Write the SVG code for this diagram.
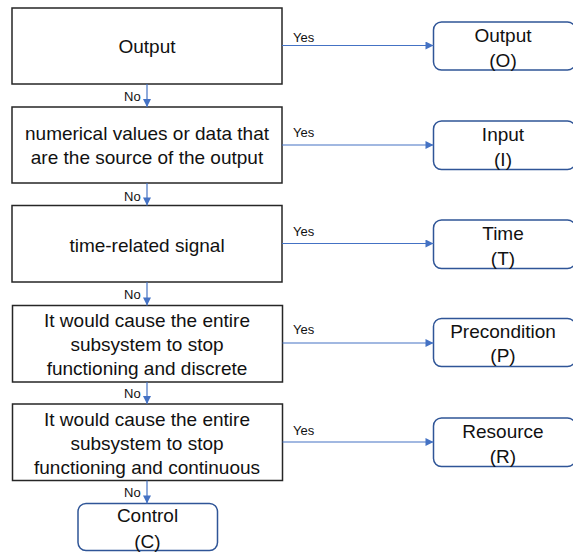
<svg xmlns="http://www.w3.org/2000/svg" width="573" height="552" viewBox="0 0 573 552">
  <defs>
    <marker id="arrow" viewBox="0 0 10 10" refX="10" refY="5" markerWidth="9" markerHeight="8" markerUnits="userSpaceOnUse" orient="auto">
      <path d="M0,0 L10,5 L0,10 Z" fill="#4472C4"/>
    </marker>
  </defs>
  <style>
    .dec { fill: #ffffff; stroke: #262626; stroke-width: 1.5; }
    .res { fill: #ffffff; stroke: #2F5597; stroke-width: 1.5; }
    .t { font-family: "Liberation Sans", Arial, sans-serif; font-size: 19px; fill: #111111; text-anchor: middle; }
    .lbl { font-family: "Liberation Sans", Arial, sans-serif; font-size: 13px; fill: #111111; }
    .edge { stroke: #4472C4; stroke-width: 1.2; fill: none; marker-end: url(#arrow); }
  </style>
  <rect width="573" height="552" fill="#ffffff"/>

  <!-- decision boxes -->
  <g id="q-output">
    <rect class="dec" x="12" y="8" width="270" height="76"/>
    <text class="t" x="147" y="53">Output</text>
  </g>
  <g id="q-input">
    <rect class="dec" x="12" y="107" width="270" height="76"/>
    <text class="t" x="147" y="140">numerical values or data that</text>
    <text class="t" x="147" y="163.5">are the source of the output</text>
  </g>
  <g id="q-time">
    <rect class="dec" x="12" y="205.5" width="270" height="76.5"/>
    <text class="t" x="147" y="251.5">time-related signal</text>
  </g>
  <g id="q-precondition">
    <rect class="dec" x="12.5" y="305.5" width="270" height="76.5"/>
    <text class="t" x="147" y="326.5">It would cause the entire</text>
    <text class="t" x="147" y="350.5">subsystem to stop</text>
    <text class="t" x="147" y="374.5">functioning and discrete</text>
  </g>
  <g id="q-resource">
    <rect class="dec" x="12.5" y="404" width="270" height="76.5"/>
    <text class="t" x="147" y="426">It would cause the entire</text>
    <text class="t" x="147" y="449.5">subsystem to stop</text>
    <text class="t" x="147" y="473.5">functioning and continuous</text>
  </g>

  <!-- result boxes -->
  <g id="r-output">
    <rect class="res" x="433.5" y="22" width="142" height="48" rx="8"/>
    <text class="t" x="503" y="41.5">Output</text>
    <text class="t" x="503" y="66.5">(O)</text>
  </g>
  <g id="r-input">
    <rect class="res" x="433.5" y="121" width="142" height="48.5" rx="8"/>
    <text class="t" x="503" y="141">Input</text>
    <text class="t" x="503" y="166">(I)</text>
  </g>
  <g id="r-time">
    <rect class="res" x="433.5" y="220" width="142" height="48.5" rx="8"/>
    <text class="t" x="503" y="239.5">Time</text>
    <text class="t" x="503" y="264.5">(T)</text>
  </g>
  <g id="r-precondition">
    <rect class="res" x="433.5" y="318.5" width="142" height="48" rx="8"/>
    <text class="t" x="503" y="337.5">Precondition</text>
    <text class="t" x="503" y="362">(P)</text>
  </g>
  <g id="r-resource">
    <rect class="res" x="433.5" y="418" width="142" height="48.5" rx="8"/>
    <text class="t" x="503" y="437.5">Resource</text>
    <text class="t" x="503" y="462.5">(R)</text>
  </g>
  <g id="r-control">
    <rect class="res" x="78" y="503.5" width="139.5" height="47" rx="8"/>
    <text class="t" x="147.5" y="522">Control</text>
    <text class="t" x="147.5" y="547.5">(C)</text>
  </g>

  <!-- connectors -->
  <g id="connectors">
    <line class="edge" x1="282" y1="45.5" x2="433.5" y2="45.5"/>
    <line class="edge" x1="282" y1="145" x2="433.5" y2="145"/>
    <line class="edge" x1="282" y1="243.5" x2="433.5" y2="243.5"/>
    <line class="edge" x1="282.5" y1="343" x2="433.5" y2="343"/>
    <line class="edge" x1="282.5" y1="442" x2="433.5" y2="442"/>

    <line class="edge" x1="147" y1="84" x2="147" y2="107"/>
    <line class="edge" x1="147" y1="183" x2="147" y2="205.5"/>
    <line class="edge" x1="147" y1="282" x2="147" y2="305.5"/>
    <line class="edge" x1="147" y1="382" x2="147" y2="404"/>
    <line class="edge" x1="147" y1="480.5" x2="147" y2="503.5"/>

    <text class="lbl" x="293" y="41.5">Yes</text>
    <text class="lbl" x="293" y="136.5">Yes</text>
    <text class="lbl" x="293" y="236">Yes</text>
    <text class="lbl" x="293" y="333.5">Yes</text>
    <text class="lbl" x="293" y="434.5">Yes</text>

    <text class="lbl" x="124" y="101">No</text>
    <text class="lbl" x="124" y="200.5">No</text>
    <text class="lbl" x="124" y="299">No</text>
    <text class="lbl" x="124" y="398">No</text>
    <text class="lbl" x="124" y="497">No</text>
  </g>
</svg>
